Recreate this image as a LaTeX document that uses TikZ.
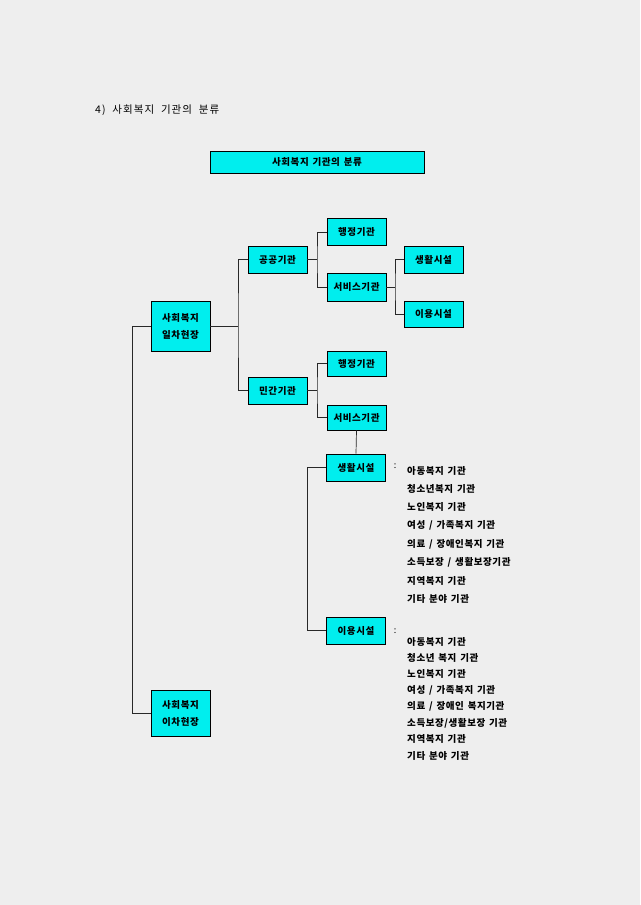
\documentclass[tikz,border=0pt]{standalone}
\usepackage{fontspec}
\setmainfont{Noto Sans CJK KR}
\newfontfamily\krb[LetterSpace=6,WordSpace=1.4]{Noto Sans CJK KR}
\newfontfamily\krr[LetterSpace=10,WordSpace=2]{Noto Sans CJK KR}
\definecolor{bg}{RGB}{238,238,238}
\definecolor{cy}{RGB}{0,238,238}
\definecolor{ln}{RGB}{40,40,40}
\begin{document}
\begin{tikzpicture}[x=1pt,y=-1pt,
  bx/.style={draw=black,line width=0.8pt,fill=cy,minimum width=59pt,inner sep=0pt,align=center,
    font=\krb\bfseries\fontsize{9.5}{17}\selectfont},
  cn/.style={draw=ln,line width=0.7pt},
  lst/.style={anchor=west,inner sep=0pt,font=\krb\bfseries\fontsize{9.5}{11}\selectfont},
  col/.style={inner sep=0pt,font=\fontsize{9}{10}\selectfont}]
\fill[bg] (0,0) rectangle (640,905);
\useasboundingbox (0,0) rectangle (640,905);
\node[anchor=west,inner sep=0pt,font=\krr\fontsize{10.5}{12}\selectfont] (hd) at (95,110) {4) 사회복지 기관의 분류};
\node[bx,minimum width=214pt,minimum height=22pt] (tt) at (317,162) {사회복지 기관의 분류};
\node[bx,minimum height=27pt] (hj1) at (356.5,232) {행정기관};
\node[bx,minimum height=27pt] (gg) at (277.5,259.5) {공공기관};
\node[bx,minimum height=28pt] (sv1) at (356.5,287) {서비스기관};
\node[bx,minimum height=27pt] (sh1) at (433.5,259.5) {생활시설};
\node[bx,minimum height=26pt] (iy1) at (433.5,314) {이용시설};
\node[bx,minimum height=50pt] (il) at (180.5,326) {사회복지\\일차현장};
\node[bx,minimum height=25pt] (hj2) at (356.5,363.5) {행정기관};
\node[bx,minimum height=27pt] (mg) at (277.5,390.5) {민간기관};
\node[bx,minimum height=25pt] (sv2) at (356.5,417.5) {서비스기관};
\node[bx,minimum height=27pt] (sh2) at (356,467.5) {생활시설};
\node[bx,minimum height=27pt] (iy2) at (356,630.5) {이용시설};
\node[bx,minimum height=46pt] (ic) at (180.5,713) {사회복지\\이차현장};
% junctions
\coordinate (j0) at (132,326);
\coordinate (j1) at (238,326);
\coordinate (j2) at (317,259.5);
\coordinate (j3) at (395,287);
\coordinate (j4) at (317,390.5);
\coordinate (j5) at (307,467.5);
\draw[cn] (il.west) -- (j0) |- (ic.west);
\draw[cn] (il.east) -- (j1);
\draw[cn] (gg.west) -| (j1) |- (mg.west);
\draw[cn] (gg.east) -- (j2);
\draw[cn] (hj1.west) -| (j2) |- (sv1.west);
\draw[cn] (sv1.east) -- (j3);
\draw[cn] (sh1.west) -| (j3) |- (iy1.west);
\draw[cn] (mg.east) -- (j4);
\draw[cn] (hj2.west) -| (j4) |- (sv2.west);
\draw[cn] (sv2.south) -- (sh2.north);
\draw[cn] (sh2.west) -- (j5) |- (iy2.west);
% colons
\node[col] (c1) at (395,466) {:};
\node[col] (c2) at (395,631) {:};
% list 1
\node[lst] (a1) at (407,471) {아동복지 기관};
\node[lst] (a2) at (407,489) {청소년복지 기관};
\node[lst] (a3) at (407,507) {노인복지 기관};
\node[lst] (a4) at (407,525.5) {여성 / 가족복지 기관};
\node[lst] (a5) at (407,544) {의료 / 장애인복지 기관};
\node[lst] (a6) at (407,562) {소득보장 / 생활보장기관};
\node[lst] (a7) at (407,580.5) {지역복지 기관};
\node[lst] (a8) at (407,599) {기타 분야 기관};
% list 2
\node[lst] (b1) at (407,642) {아동복지 기관};
\node[lst] (b2) at (407,658) {청소년 복지 기관};
\node[lst] (b3) at (407,674) {노인복지 기관};
\node[lst] (b4) at (407,690.5) {여성 / 가족복지 기관};
\node[lst] (b5) at (407,706.5) {의료 / 장애인 복지기관};
\node[lst] (b6) at (407,723) {소득보장/생활보장 기관};
\node[lst] (b7) at (407,739) {지역복지 기관};
\node[lst] (b8) at (407,756) {기타 분야 기관};
\end{tikzpicture}
\end{document}
